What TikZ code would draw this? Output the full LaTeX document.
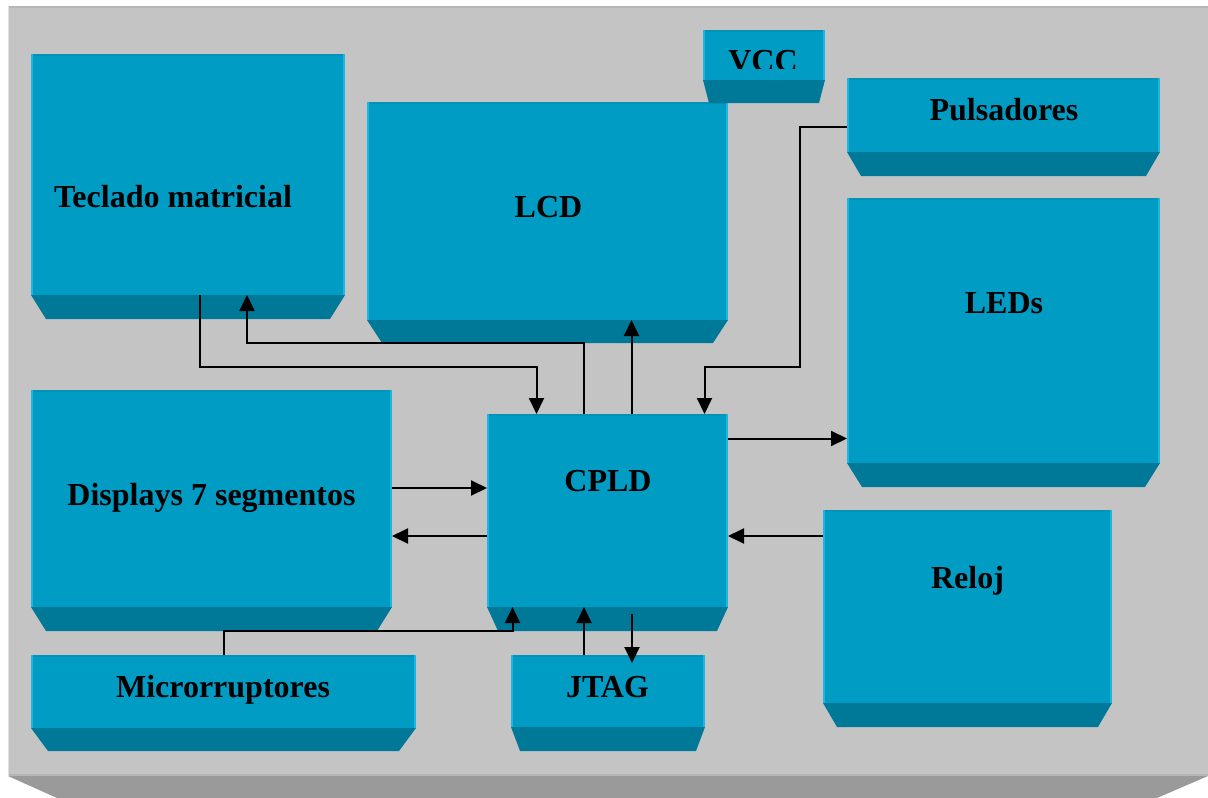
\documentclass[tikz,border=0pt]{standalone}
\usepackage{fontspec}
\setmainfont{Liberation Serif}
\usetikzlibrary{arrows.meta,calc}

\definecolor{panelc}{HTML}{C4C4C4}
\definecolor{panelbevel}{HTML}{9A9A9A}
\definecolor{panelrim}{HTML}{B6B6B6}
\definecolor{facec}{HTML}{009CC4}
\definecolor{bevelc}{HTML}{007898}
\definecolor{edgec}{HTML}{1CB6E4}
\definecolor{topc}{HTML}{0092B8}

% one block: bevel under the face, then the face with its lit side edges
% #1 name, #2 left, #3 top, #4 right, #5 bottom, #6 bevel inset, #7 bevel depth
\newcommand\bloque[7]{%
  \fill[bevelc] (#2,#5) -- (#4,#5) -- (#4-#6,#5+#7) -- (#2+#6,#5+#7) -- cycle;
  \node[face, minimum width={#4-#2}, minimum height={#5-#3}] (#1)
    at ({(#2+#4)/2},{(#3+#5)/2}) {};
  \draw[topc, line width=1.5pt] ($(#1.north west)+(0,0.75)$) -- ($(#1.north east)+(0,0.75)$);
  \draw[edgec, line width=2pt] ($(#1.north west)+(1,0)$) -- ($(#1.south west)+(1,0)$);
  \draw[edgec, line width=2pt] ($(#1.north east)+(-1,0)$) -- ($(#1.south east)+(-1,0)$);
}

\begin{document}
\begin{tikzpicture}[x=1pt,y=-1pt,
  face/.style={rectangle, fill=facec, draw=none, inner sep=0pt, outer sep=0pt},
  lbl/.style={font=\fontsize{32}{38}\selectfont\bfseries, anchor=base, inner sep=0pt, text=black},
  wire/.style={line width=2pt, black},
  arr/.style={wire, -{Triangle[length=16pt,width=15pt]}}]

\useasboundingbox (0,0) rectangle (1208,798);

% board
\fill[white] (0,0) rectangle (1208,798);
\fill[panelbevel] (8,776) -- (1208,776) -- (1157,798) -- (57,798) -- cycle;
\fill[panelc] (8,6) rectangle (1208,776);
\draw[panelrim, line width=1.5pt] (8,6.75) -- (1208,6.75);
\draw[panelrim, line width=2pt] (8,775) -- (1208,775);
\draw[white!88!black, line width=1pt] (8.5,6) -- (8.5,776);

% blocks
\bloque{tec}{31}{54}{345}{295}{15}{24}
\bloque{lcd}{367}{102}{728}{320}{15}{23}
\bloque{vcc}{703}{30}{825}{80}{6}{23}
\bloque{pul}{847}{78}{1160}{152}{14}{24}
\bloque{leds}{847}{198}{1160}{463}{15}{24}
\bloque{disp}{31}{390}{392}{607}{15}{24}
\bloque{cpld}{487}{414}{728}{607}{11}{24}
\bloque{rel}{823}{510}{1112}{703}{14}{24}
\bloque{mic}{31}{655}{416}{728}{17}{23}
\bloque{jtag}{511}{655}{705}{727}{9}{24}

% labels
\node[lbl] (t-tec) at (173,207) {Teclado matricial};
\node[lbl] (t-lcd) at (548.5,217) {LCD};
\begin{scope}
  \clip (700,28) rectangle (830,68);
  \node[lbl] (t-vcc) at (763,71) {VCC};
\end{scope}
\node[lbl] (t-pul) at (1004,120) {Pulsadores};
\node[lbl] (t-leds) at (1004,313) {LEDs};
\node[lbl] (t-disp) at (211.5,505) {Displays 7 segmentos};
\node[lbl] (t-cpld) at (608,491) {CPLD};
\node[lbl] (t-rel) at (967.5,588) {Reloj};
\node[lbl] (t-mic) at (223,697) {Microrruptores};
\node[lbl] (t-jtag) at (607.5,697) {JTAG};

% ports on the block sides
\coordinate (cpld-led) at ($(cpld.east)+(0,-72)$);
\coordinate (disp-out) at ($(disp.east)+(0,-10.5)$);
\coordinate (cpld-disp) at ($(cpld.west)+(0,25.5)$);
\coordinate (cpld-clk) at ($(cpld.east)+(0,25.5)$);

% connections
\draw[arr] ($(tec.south)+(12,0)$) -- ++(0,72) -| ($(cpld.north)+(-71,0)$);
\draw[arr] ($(cpld.north)+(-24,0)$) -- ++(0,-71) -| ($(tec.south)+(59,0)$);
\draw[arr] ($(cpld.north)+(24,0)$) -- ($(lcd.south)+(84,0)$);
\draw[arr] ($(pul.west)+(0,12)$) -- ++(-47,0) -- ++(0,240) -| ($(cpld.north)+(97,0)$);
\draw[arr] (cpld-led) -- (cpld-led -| leds.west);
\draw[arr] (disp-out) -- (disp-out -| cpld.west);
\draw[arr] (cpld-disp) -- (cpld-disp -| disp.east);
\draw[arr] (cpld-clk -| rel.west) -- (cpld-clk);
\draw[arr] (mic.north) -- ++(0,-24) -| ($(cpld.south)+(-95,0)$);
\draw[arr] ($(jtag.north)+(-24,0)$) -- ($(cpld.south)+(-23.5,0)$);
\draw[arr] ($(cpld.south)+(24.5,7)$) -- ($(jtag.north)+(24,8)$);

\end{tikzpicture}
\end{document}
